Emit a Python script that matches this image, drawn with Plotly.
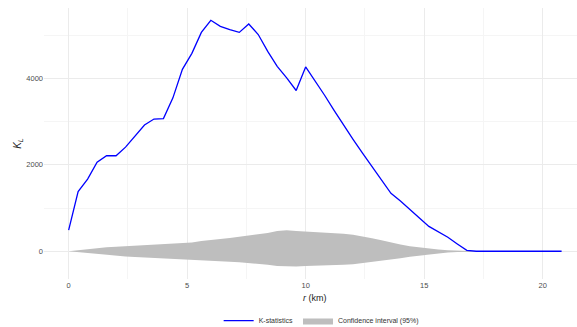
import plotly.graph_objects as go

# Distance grid (km) and L-function statistic
r_km = [round(0.4 * i, 1) for i in range(53)]

k_stat = [
    490, 1380, 1670, 2060, 2210, 2210, 2410, 2660, 2920, 3060,
    3070, 3550, 4210, 4580, 5065, 5345, 5205, 5130, 5065, 5260,
    5015, 4625, 4280, 4010, 3720, 4265, 3950, 3610, 3260, 2915,
    2590, 2270, 1965, 1640, 1340, 1165, 960, 770, 575, 445,
    325, 170, 20, 0, 0, 0, 0, 0, 0, 0,
    0, 0, 0,
]

# Simulation envelope (95 %)
ci_upper = [
    0, 25, 45, 65, 90, 105, 115, 130, 145, 160,
    165, 175, 185, 200, 235, 265, 285, 305, 335, 365,
    390, 425, 470, 485, 470, 460, 450, 440, 425, 405,
    380, 345, 300, 255, 200, 155, 115, 85, 60, 40,
    25, 12, 3, 0, 0, 0, 0, 0, 0, 0,
    0, 0, 0,
]
ci_lower = [
    0, -20, -40, -60, -80, -100, -120, -135, -150, -165,
    -180, -190, -200, -210, -215, -225, -235, -245, -255, -270,
    -290, -315, -340, -350, -355, -340, -320, -315, -320, -315,
    -300, -280, -255, -225, -190, -160, -125, -95, -70, -50,
    -30, -15, -4, 0, 0, 0, 0, 0, 0, 0,
    0, 0, 0,
]

x_ticks = [0, 5, 10, 15, 20]
y_ticks = [0, 2000, 4000]

FONT = "Liberation Sans, Arial, sans-serif"
GRID = "#EBEBEB"
GRID_MINOR = "#F5F5F5"

fig = go.Figure()

fig.add_trace(go.Scatter(
    x=r_km + r_km[::-1],
    y=ci_upper + ci_lower[::-1],
    fill="toself",
    fillcolor="#BEBEBE",
    line=dict(width=0, color="#BEBEBE"),
    mode="lines",
    name="Confidence interval (95%)",
    legendrank=2,
    hoverinfo="skip",
))

fig.add_trace(go.Scatter(
    x=r_km,
    y=k_stat,
    mode="lines",
    line=dict(color="#0000FF", width=1.3),
    name="K-statistics",
    legendrank=1,
))

fig.update_layout(
    width=577,
    height=327,
    margin=dict(l=44, r=0, t=8, b=48, autoexpand=False),
    paper_bgcolor="white",
    plot_bgcolor="white",
    font=dict(family=FONT, size=8, color="#4D4D4D"),
    showlegend=True,
    legend=dict(
        orientation="h",
        x=0.52,
        xanchor="center",
        y=-0.1,
        yanchor="top",
        font=dict(size=7, color="#333333"),
        itemwidth=30,
        tracegroupgap=0,
    ),
    xaxis=dict(
        range=[-1.04, 21.45],
        tickvals=x_ticks,
        ticktext=[str(v) for v in x_ticks],
        showgrid=True,
        gridcolor=GRID,
        gridwidth=0.8,
        zeroline=False,
        showline=False,
        ticks="",
        tickfont=dict(size=7.5, color="#4D4D4D"),
        minor=dict(dtick=2.5, tick0=0, showgrid=True, gridcolor=GRID_MINOR, gridwidth=0.5),
    ),
    yaxis=dict(
        range=[-642, 5629],
        tickvals=y_ticks,
        ticktext=[str(v) for v in y_ticks],
        showgrid=True,
        gridcolor=GRID,
        gridwidth=0.8,
        zeroline=False,
        showline=False,
        ticks="",
        tickfont=dict(size=7.5, color="#4D4D4D"),
        minor=dict(dtick=1000, tick0=0, showgrid=True, gridcolor=GRID_MINOR, gridwidth=0.5),
    ),
    annotations=[
        dict(
            text="<i>r</i> (km)",
            xref="x", yref="paper",
            x=10.4, y=-0.045,
            xanchor="center", yanchor="top",
            showarrow=False,
            font=dict(size=9, color="#1A1A1A"),
        ),
        dict(
            text="<i>K<sub>L</sub></i>",
            xref="paper", yref="paper",
            x=-0.05, y=0.5,
            xanchor="center", yanchor="middle",
            textangle=-90,
            showarrow=False,
            font=dict(size=10, color="#1A1A1A"),
        ),
    ],
)

fig.write_html("out.html")
